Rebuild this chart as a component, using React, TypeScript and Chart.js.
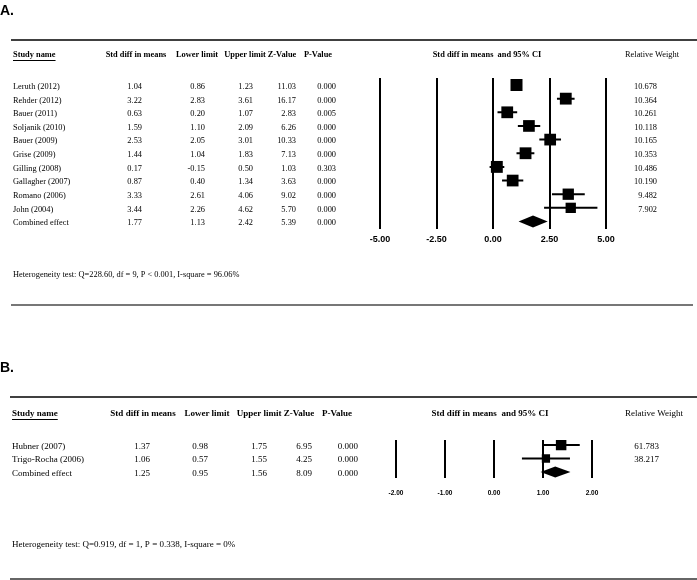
import React, { useEffect, useRef } from "react";
import { Chart, registerables } from "chart.js";

Chart.register(...registerables);

// ---------------- Data: panel A ----------------
const studiesA = [
  "Leruth (2012)",
  "Rehder (2012)",
  "Bauer (2011)",
  "Soljanik (2010)",
  "Bauer (2009)",
  "Grise (2009)",
  "Gilling (2008)",
  "Gallagher (2007)",
  "Romano (2006)",
  "John (2004)",
];
const smdA = [1.04, 3.22, 0.63, 1.59, 2.53, 1.44, 0.17, 0.87, 3.33, 3.44];
const lowerA = [0.86, 2.83, 0.2, 1.1, 2.05, 1.04, -0.15, 0.4, 2.61, 2.26];
const upperA = [1.23, 3.61, 1.07, 2.09, 3.01, 1.83, 0.5, 1.34, 4.06, 4.62];
const zA = [11.03, 16.17, 2.83, 6.26, 10.33, 7.13, 1.03, 3.63, 9.02, 5.7];
const pA = [0.0, 0.0, 0.005, 0.0, 0.0, 0.0, 0.303, 0.0, 0.0, 0.0];
const weightA = [10.678, 10.364, 10.261, 10.118, 10.165, 10.353, 10.486, 10.19, 9.482, 7.902];
// combined: smd, lower, upper, z, p
const combinedA = [1.77, 1.13, 2.42, 5.39, 0.0];
const ticksA = [-5, -2.5, 0, 2.5, 5];
const heteroA = "Heterogeneity test: Q=228.60, df = 9, P < 0.001, I-square = 96.06%";

// ---------------- Data: panel B ----------------
const studiesB = ["Hubner (2007)", "Trigo-Rocha (2006)"];
const smdB = [1.37, 1.06];
const lowerB = [0.98, 0.57];
const upperB = [1.75, 1.55];
const zB = [6.95, 4.25];
const pB = [0.0, 0.0];
const weightB = [61.783, 38.217];
const combinedB = [1.25, 0.95, 1.56, 8.09, 0.0];
const ticksB = [-2, -1, 0, 1, 2];
const heteroB = "Heterogeneity test: Q=0.919, df = 1, P = 0.338, I-square = 0%";

const headers = ["Std diff in means", "Lower limit", "Upper limit", "Z-Value", "P-Value"];

type Layout = {
  letter: string;
  height: number;
  letterBaseline: number;
  topRuleY: number;
  topRuleX0: number;
  headerY: number;
  nameX: number;
  headerCenters: number[];
  valueRights: number[];
  ciHeaderX: number;
  weightHeaderX: number;
  weightRight: number;
  plotLeft: number;
  plotRight: number;
  plotTop: number;
  plotBottom: number;
  firstRowPx: number;
  rowStep: number;
  tickFont: number;
  tickCenterY: number;
  maxSide: number;
  diamondHalf: number;
  textDy: number;
  heteroY: number;
  bottomRuleY: number;
  bottomRuleX0: number;
  bottomRuleX1: number;
  bottomRuleColor: string;
  sx: number;
  fontSize: number;
};

type PanelData = {
  studies: string[];
  smd: number[];
  lower: number[];
  upper: number[];
  z: number[];
  p: number[];
  weight: number[];
  combined: number[];
  ticks: number[];
  hetero: string;
};

function drawText(
  ctx: CanvasRenderingContext2D,
  text: string,
  x: number,
  y: number,
  font: string,
  align: CanvasTextAlign,
  sx: number
) {
  ctx.save();
  ctx.font = font;
  ctx.fillStyle = "#000";
  ctx.textBaseline = "middle";
  ctx.textAlign = align;
  ctx.translate(x, y);
  ctx.scale(sx, 1);
  ctx.fillText(text, 0, 0);
  ctx.restore();
}

function ForestPanel({ data, lay }: { data: PanelData; lay: Layout }) {
  const ref = useRef<HTMLCanvasElement | null>(null);

  useEffect(() => {
    const canvas = ref.current;
    if (!canvas) return;
    const n = data.studies.length;
    const yMin = -(lay.firstRowPx - lay.plotTop) / lay.rowStep;
    const yMax = yMin + (lay.plotBottom - lay.plotTop) / lay.rowStep;
    const wMax = Math.max(...data.weight);
    const radii = data.weight.map((w) => (lay.maxSide * Math.sqrt(w / wMax)) / Math.SQRT2);

    const whiskers: { x: number | null; y: number | null }[] = [];
    data.studies.forEach((_, i) => {
      whiskers.push({ x: data.lower[i], y: i });
      whiskers.push({ x: data.upper[i], y: i });
      whiskers.push({ x: null, y: null });
    });

    const labelH = lay.tickFont * 1.2;
    const tickPad = lay.tickCenterY - lay.plotBottom - labelH / 2;
    const axisH = labelH + tickPad;
    const bottomPad = lay.height - lay.plotBottom - axisH;

    const serif = "'Liberation Serif', 'Times New Roman', serif";
    const fs = lay.fontSize;

    const forestPlugin = {
      id: "forestPlugin",
      afterDatasetsDraw(chart: any) {
        const ctx: CanvasRenderingContext2D = chart.ctx;
        const xs = chart.scales.x;
        const ys = chart.scales.y;
        const yc = ys.getPixelForValue(n);
        const xl = xs.getPixelForValue(data.combined[1]);
        const xm = xs.getPixelForValue(data.combined[0]);
        const xr = xs.getPixelForValue(data.combined[2]);
        ctx.save();
        ctx.fillStyle = "#000";
        ctx.beginPath();
        ctx.moveTo(xl, yc);
        ctx.lineTo(xm, yc - lay.diamondHalf);
        ctx.lineTo(xr, yc);
        ctx.lineTo(xm, yc + lay.diamondHalf);
        ctx.closePath();
        ctx.fill();
        ctx.restore();
      },
      afterDraw(chart: any) {
        const ctx: CanvasRenderingContext2D = chart.ctx;
        const ys = chart.scales.y;
        const sx = lay.sx;
        // letter
        drawText(ctx, lay.letter, 0, lay.letterBaseline - 5, "bold 14px 'Liberation Sans', Arial, sans-serif", "left", 1);
        // top rule
        ctx.save();
        ctx.strokeStyle = "#000";
        ctx.lineWidth = 1.5;
        ctx.beginPath();
        ctx.moveTo(lay.topRuleX0, lay.topRuleY);
        ctx.lineTo(697, lay.topRuleY);
        ctx.stroke();
        ctx.restore();
        // headers
        const bold = `bold ${fs}px ${serif}`;
        const reg = `${fs}px ${serif}`;
        drawText(ctx, "Study name", lay.nameX, lay.headerY, bold, "left", sx);
        ctx.save();
        ctx.font = bold;
        const uw = ctx.measureText("Study name").width * sx;
        ctx.strokeStyle = "#000";
        ctx.lineWidth = 1;
        ctx.beginPath();
        ctx.moveTo(lay.nameX, lay.headerY + 5.5);
        ctx.lineTo(lay.nameX + uw, lay.headerY + 5.5);
        ctx.stroke();
        ctx.restore();
        headers.forEach((h, k) => drawText(ctx, h, lay.headerCenters[k], lay.headerY, bold, "center", sx));
        drawText(ctx, "Std diff in means  and 95% CI", lay.ciHeaderX, lay.headerY, bold, "center", sx);
        drawText(ctx, "Relative Weight", lay.weightHeaderX, lay.headerY, reg, "center", sx);
        // rows
        const rowVals = (i: number) => [
          data.smd[i].toFixed(2),
          data.lower[i].toFixed(2),
          data.upper[i].toFixed(2),
          data.z[i].toFixed(2),
          data.p[i].toFixed(3),
        ];
        data.studies.forEach((s, i) => {
          const y = ys.getPixelForValue(i) + lay.textDy;
          drawText(ctx, s, lay.nameX, y, reg, "left", sx);
          rowVals(i).forEach((v, k) => drawText(ctx, v, lay.valueRights[k], y, reg, "right", sx));
          drawText(ctx, data.weight[i].toFixed(3), lay.weightRight, y, reg, "right", sx);
        });
        const yc = ys.getPixelForValue(n) + lay.textDy;
        drawText(ctx, "Combined effect", lay.nameX, yc, reg, "left", sx);
        const cv = [
          data.combined[0].toFixed(2),
          data.combined[1].toFixed(2),
          data.combined[2].toFixed(2),
          data.combined[3].toFixed(2),
          data.combined[4].toFixed(3),
        ];
        cv.forEach((v, k) => drawText(ctx, v, lay.valueRights[k], yc, reg, "right", sx));
        // heterogeneity
        drawText(ctx, data.hetero, lay.nameX, lay.heteroY, reg, "left", sx);
        // bottom rule
        ctx.save();
        ctx.strokeStyle = lay.bottomRuleColor;
        ctx.lineWidth = 2;
        ctx.beginPath();
        ctx.moveTo(lay.bottomRuleX0, lay.bottomRuleY);
        ctx.lineTo(lay.bottomRuleX1, lay.bottomRuleY);
        ctx.stroke();
        ctx.restore();
      },
    };

    const chart = new Chart(canvas, {
      type: "scatter",
      data: {
        datasets: [
          {
            data: data.smd.map((v, i) => ({ x: v, y: i })),
            pointStyle: "rect",
            pointRadius: radii,
            pointBackgroundColor: "#000",
            pointBorderWidth: 0,
            borderWidth: 0,
            backgroundColor: "#000",
          },
          {
            data: whiskers as any,
            showLine: true,
            spanGaps: false,
            borderColor: "#000",
            borderWidth: 2,
            pointRadius: 0,
            tension: 0,
          },
        ],
      },
      options: {
        animation: false,
        responsive: false,
        devicePixelRatio: 1,
        events: [],
        layout: {
          padding: {
            left: lay.plotLeft,
            right: 697 - lay.plotRight,
            top: lay.plotTop,
            bottom: bottomPad,
          },
        },
        plugins: {
          legend: { display: false },
          tooltip: { enabled: false },
        },
        scales: {
          x: {
            type: "linear",
            position: "bottom",
            min: data.ticks[0],
            max: data.ticks[data.ticks.length - 1],
            afterBuildTicks: (axis: any) => {
              axis.ticks = data.ticks.map((v) => ({ value: v }));
            },
            afterFit: (axis: any) => {
              axis.height = axisH;
            },
            ticks: {
              callback: (v: any) => Number(v).toFixed(2),
              font: { family: "'Liberation Sans', Arial, sans-serif", size: lay.tickFont, weight: "bold" },
              color: "#000",
              padding: tickPad,
              maxRotation: 0,
              autoSkip: false,
            },
            grid: { color: "#000", lineWidth: 2, drawTicks: false },
            border: { display: false },
          },
          y: {
            type: "linear",
            display: false,
            reverse: true,
            min: yMin,
            max: yMax,
          },
        },
      },
      plugins: [forestPlugin],
    } as any);
    return () => chart.destroy();
  }, [data, lay]);

  return <canvas ref={ref} width={697} height={lay.height} style={{ display: "block", width: 697, height: lay.height }} />;
}

const panelA: PanelData = {
  studies: studiesA,
  smd: smdA,
  lower: lowerA,
  upper: upperA,
  z: zA,
  p: pA,
  weight: weightA,
  combined: combinedA,
  ticks: ticksA,
  hetero: heteroA,
};

const panelB: PanelData = {
  studies: studiesB,
  smd: smdB,
  lower: lowerB,
  upper: upperB,
  z: zB,
  p: pB,
  weight: weightB,
  combined: combinedB,
  ticks: ticksB,
  hetero: heteroB,
};

const layoutA: Layout = {
  letter: "A.",
  height: 320,
  letterBaseline: 16,
  topRuleY: 40,
  topRuleX0: 11,
  headerY: 55,
  nameX: 13,
  headerCenters: [136, 197, 245, 282, 318],
  valueRights: [142, 205, 253, 296, 336],
  ciHeaderX: 487,
  weightHeaderX: 652,
  weightRight: 657,
  plotLeft: 380,
  plotRight: 606,
  plotTop: 78,
  plotBottom: 229,
  firstRowPx: 85,
  rowStep: 13.65,
  tickFont: 9,
  tickCenterY: 240,
  maxSide: 12,
  diamondHalf: 6,
  textDy: 1.5,
  heteroY: 275,
  bottomRuleY: 305,
  bottomRuleX0: 11,
  bottomRuleX1: 693,
  bottomRuleColor: "#777",
  sx: 0.93,
  fontSize: 9,
};

const layoutB: Layout = {
  letter: "B.",
  height: 260,
  letterBaseline: 53,
  topRuleY: 77,
  topRuleX0: 10,
  headerY: 94,
  nameX: 12,
  headerCenters: [143, 207, 259, 299, 337],
  valueRights: [150, 208, 267, 312, 358],
  ciHeaderX: 490,
  weightHeaderX: 654,
  weightRight: 659,
  plotLeft: 396,
  plotRight: 592,
  plotTop: 120,
  plotBottom: 157.5,
  firstRowPx: 125,
  rowStep: 13.5,
  tickFont: 6.5,
  tickCenterY: 173,
  maxSide: 10.5,
  diamondHalf: 5.5,
  textDy: 1.5,
  heteroY: 225,
  bottomRuleY: 259,
  bottomRuleX0: 10,
  bottomRuleX1: 697,
  bottomRuleColor: "#666",
  sx: 1,
  fontSize: 9,
};

export default function App() {
  return (
    <div style={{ position: "absolute", left: 0, top: 0, width: 697, height: 580, background: "#fff", overflow: "hidden" }}>
      <div style={{ position: "absolute", left: 0, top: 0 }}>
        <ForestPanel data={panelA} lay={layoutA} />
      </div>
      <div style={{ position: "absolute", left: 0, top: 320 }}>
        <ForestPanel data={panelB} lay={layoutB} />
      </div>
    </div>
  );
}
